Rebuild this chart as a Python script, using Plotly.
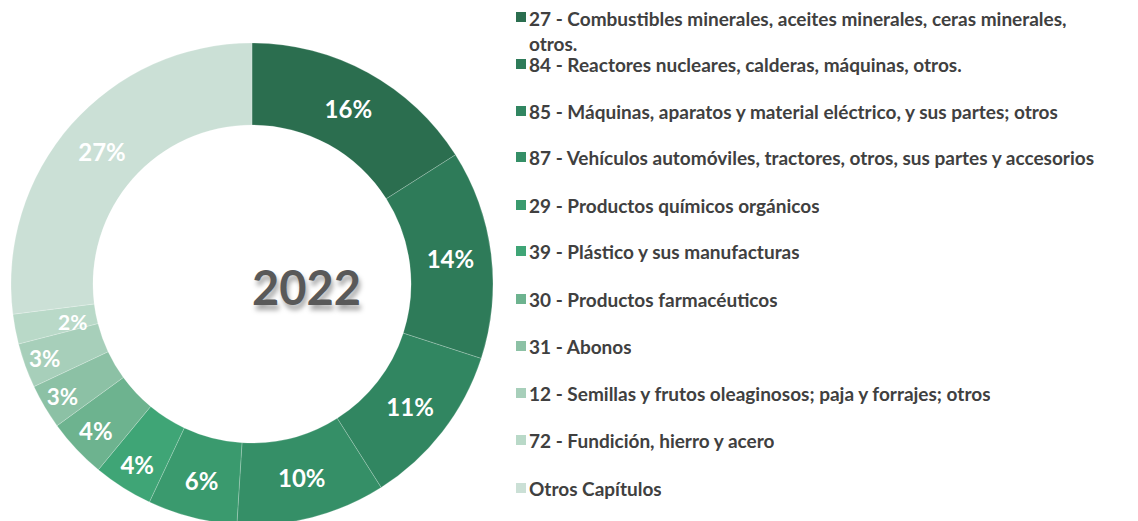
import math
import plotly.graph_objects as go

W, H = 1138, 521
OFF = 8  # page body margin offset in the browser

labels = [
    "27 - Combustibles minerales, aceites minerales, ceras minerales,<br>otros.",
    "84 - Reactores nucleares, calderas, máquinas, otros.",
    "85 - Máquinas, aparatos y material eléctrico, y sus partes; otros",
    "87 - Vehículos automóviles, tractores, otros, sus partes y accesorios",
    "29 - Productos químicos orgánicos",
    "39 - Plástico y sus manufacturas",
    "30 - Productos farmacéuticos",
    "31 - Abonos",
    "12 - Semillas y frutos oleaginosos; paja y forrajes; otros",
    "72 - Fundición, hierro y acero",
    "Otros Capítulos",
]
values = [16, 14, 11, 10, 6, 4, 4, 3, 3, 2, 27]
colors = ["#2b6e4f", "#2e7b59", "#318661", "#358f67", "#3a9a6e", "#3fa576",
          "#6db38f", "#8cc1a5", "#a7cfba", "#b9d9c8", "#cbe0d6"]
center_label = "2022"

FONT = "Lato"


def px(x):
    return (x - OFF) / W


def py(y):
    return 1 - (y - OFF) / H


# pie geometry (target screen pixels)
cx, cy, r = 252, 284, 241
HOLE = 0.66
SMALL = 2.5  # slices below this share get their label as an annotation (avoid auto-shrink)

templates = ["" if v < SMALL else "%{value}%" for v in values]

fig = go.Figure()
fig.add_trace(go.Pie(
    labels=labels,
    values=values,
    sort=False,
    direction="clockwise",
    rotation=0,
    hole=HOLE,
    marker=dict(colors=colors, line=dict(color="rgba(255,255,255,0.35)", width=0.6)),
    texttemplate=templates,
    textposition="inside",
    insidetextorientation="horizontal",
    textfont=dict(family=FONT, size=24, color="white", weight="bold"),
    showlegend=False,
    hoverinfo="label+percent",
    domain=dict(x=[px(cx - r), px(cx + r)], y=[py(cy + r), py(cy - r)]),
))

# labels for very thin slices, placed at the slice mid-angle derived from the data
total = sum(values)
cum = 0
for v in values:
    if v < SMALL:
        theta = 2 * math.pi * (cum + v / 2) / total
        rm = r * (1 + HOLE) / 2
        lx = cx + rm * math.sin(theta)
        ly = cy - rm * math.cos(theta)
        fig.add_annotation(x=px(lx), y=py(ly), xref="paper", yref="paper",
                           text=f"{v}%", showarrow=False,
                           font=dict(family=FONT, size=21, color="white", weight="bold"))
    cum += v

# center label
fig.add_annotation(
    x=px(250), y=py(287), xref="paper", yref="paper",
    text=center_label, showarrow=False,
    font=dict(family=FONT, size=47, color="#595959", weight="bold",
              shadow="2px 5px 5px rgba(0,0,0,0.35)"),
)

# legend built from labels / colors
LEG_FONT = dict(family=FONT, size=19, color="#404040", weight="bold")
row_y = [17, 64, 111, 157, 205, 251, 299, 346, 393, 440, 488]
WRAP_GAP = 26  # distance between wrapped lines of one legend entry
for lab, col, yy in zip(labels, colors, row_y):
    fig.add_shape(type="rect", xref="paper", yref="paper",
                  x0=px(516), x1=px(526), y0=py(yy + 5), y1=py(yy - 5),
                  fillcolor=col, line=dict(width=0))
    for k, line in enumerate(lab.split("<br>")):
        first = k == 0 and yy == row_y[0]
        fig.add_annotation(
            x=px(528), y=py(yy + k * WRAP_GAP) if not first else py(18),
            xref="paper", yref="paper",
            text=line, showarrow=False, xanchor="left", yanchor="middle", align="left",
            borderpad=0, height=20 if first else 22,
            font=LEG_FONT,
        )

fig.update_layout(
    width=W, height=H,
    margin=dict(l=0, r=0, t=0, b=0),
    paper_bgcolor="white", plot_bgcolor="white",
)

fig.write_html("out.html")
